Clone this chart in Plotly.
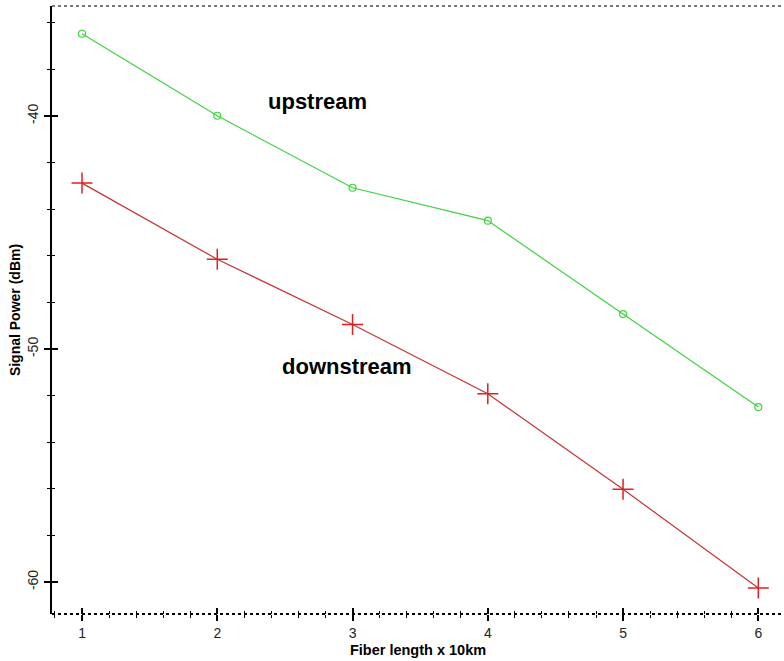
import plotly.graph_objects as go

fiber_length = [1, 2, 3, 4, 5, 6]
upstream = [-36.47, -39.99, -43.08, -44.49, -48.50, -52.49]
downstream = [-42.88, -46.15, -48.95, -51.92, -56.02, -60.25]

x_range = [0.778, 6.19]
y_range = [-61.37, -35.28]

fig = go.Figure()
fig.add_trace(go.Scatter(
    x=fiber_length, y=upstream, mode="lines+markers", name="upstream",
    line=dict(color="#3ed43e", width=1.2),
    marker=dict(symbol="circle-open", size=7, color="#3ed43e", line=dict(width=1.2)),
))
fig.add_trace(go.Scatter(
    x=fiber_length, y=downstream, mode="lines+markers", name="downstream",
    line=dict(color="#c83232", width=1.2),
    marker=dict(symbol="cross-thin-open", size=15, color="#e02020", line=dict(width=1.5, color="#e02020")),
))

fig.add_annotation(x=2.744, y=-39.36, text="<b>upstream</b>", showarrow=False,
                   font=dict(family="Arial", size=22, color="black"))
fig.add_annotation(x=2.959, y=-50.73, text="<b>downstream</b>", showarrow=False,
                   font=dict(family="Arial", size=22, color="black"))

axis_font = dict(family="Arial", size=14, color="#222")
fig.update_layout(
    width=784, height=661,
    margin=dict(l=52, r=0, t=6, b=47),
    paper_bgcolor="white", plot_bgcolor="white",
    showlegend=False,
    xaxis=dict(
        range=x_range, tickvals=fiber_length, ticks="outside", ticklen=6, tickwidth=1.5,
        tickcolor="black", showgrid=False, zeroline=False, showline=False,
        minor=dict(dtick=0.2, tick0=0, ticks="outside", ticklen=3, tickwidth=1, tickcolor="black"),
        tickfont=axis_font,
        title=dict(text="<b>Fiber length x 10km</b>", font=dict(family="Arial", size=14.5, color="black"), standoff=5),
    ),
    xaxis2=dict(
        range=x_range, overlaying="x", anchor="y", side="bottom", tickvals=fiber_length,
        ticks="inside", ticklen=6, tickwidth=1.5, tickcolor="black", showticklabels=False,
        showgrid=False, zeroline=False, showline=False,
        minor=dict(dtick=0.2, tick0=0, ticks="inside", ticklen=3, tickwidth=1, tickcolor="black"),
    ),
    yaxis=dict(
        range=y_range, tickvals=[-60, -50, -40], ticktext=["-60", "-50", "-40"],
        ticks="outside", ticklen=6, tickwidth=1.5, tickcolor="black",
        showgrid=False, zeroline=False, showline=True, linecolor="black", linewidth=2,
        minor=dict(dtick=2, tick0=0, ticks="outside", ticklen=3, tickwidth=1, tickcolor="black"),
        tickangle=-90, tickfont=axis_font, ticklabelstandoff=0,
        title=dict(text="<b>Signal Power (dBm)</b>", font=dict(family="Arial", size=14, color="black"), standoff=2),
    ),
    yaxis2=dict(
        range=y_range, overlaying="y", anchor="x", side="left", tickvals=[-60, -50, -40],
        ticks="inside", ticklen=6, tickwidth=1.5, tickcolor="black", showticklabels=False,
        showgrid=False, zeroline=False, showline=False,
        minor=dict(dtick=2, tick0=0, ticks="inside", ticklen=3, tickwidth=1, tickcolor="black"),
    ),
)

# dummy trace to activate overlay axes
fig.add_trace(go.Scatter(x=[None], y=[None], xaxis="x2", yaxis="y2", showlegend=False, hoverinfo="skip"))

# dotted frame lines (bottom and top)
fig.add_shape(type="line", xref="paper", yref="paper", x0=0, x1=1, y0=0, y1=0,
              line=dict(color="black", width=2, dash="dot"), layer="above")
fig.add_shape(type="line", xref="paper", yref="paper", x0=0, x1=1, y0=1, y1=1,
              line=dict(color="#777", width=2, dash="dot"), layer="above")

fig.write_html("out.html", config={"displayModeBar": False},
               post_script="document.body.style.margin='0';")
